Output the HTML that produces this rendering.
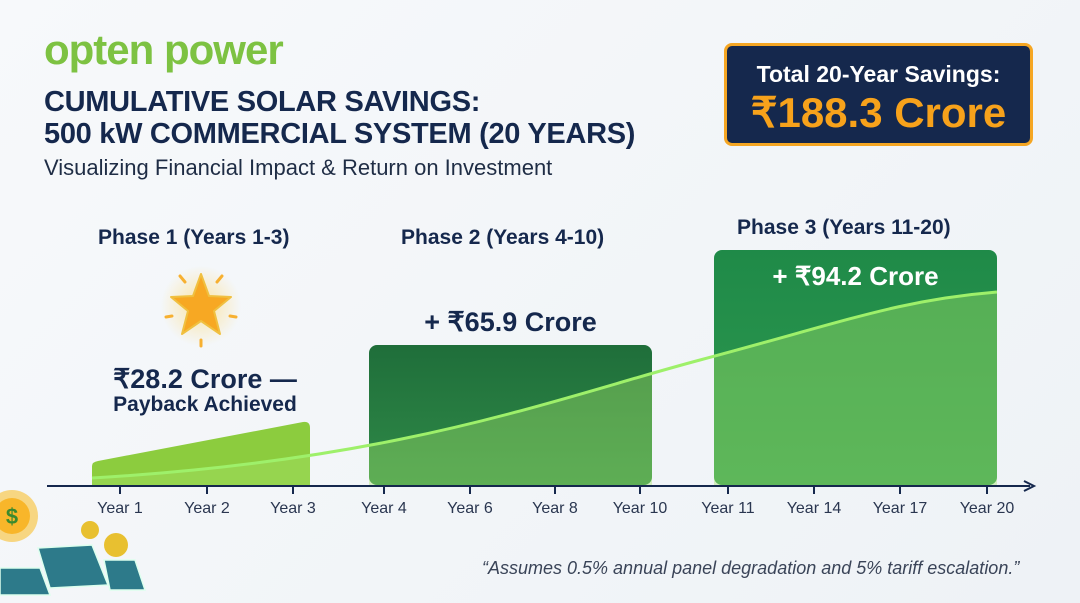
<!DOCTYPE html>
<html><head><meta charset="utf-8"><style>
body{margin:0;width:1080px;height:603px;overflow:hidden;background:linear-gradient(135deg,#f7f9fb,#eef2f6);font-family:"Liberation Sans",sans-serif;position:relative}
.t{position:absolute;white-space:nowrap}
.nv{color:#15284d;font-weight:bold}
</style></head><body>
<div class="t" style="left:44px;top:26px;font-size:42px;font-weight:bold;color:#7dc242;letter-spacing:-1px">opten power</div>
<div class="t nv" style="left:44px;top:86px;font-size:29px;line-height:32px;letter-spacing:-0.3px">CUMULATIVE SOLAR SAVINGS:<br>500 kW COMMERCIAL SYSTEM (20 YEARS)</div>
<div class="t" style="left:44px;top:155px;font-size:22px;color:#1f2d45">Visualizing Financial Impact &amp; Return on Investment</div>
<div class="t" style="left:724px;top:43px;width:303px;height:97px;background:#15284d;border:3px solid #f5a623;border-radius:8px;text-align:center;color:#fff">
<div style="font-size:23px;font-weight:bold;margin-top:15px">Total 20-Year Savings:</div>
<div style="font-size:42px;font-weight:bold;color:#f7a21b;margin-top:0px">₹188.3 Crore</div></div>
<svg class="t" style="left:0;top:0" width="1080" height="603">
<defs>
<linearGradient id="g1" x1="0" y1="0" x2="0" y2="1"><stop offset="0" stop-color="#1f6e3a"/><stop offset="1" stop-color="#2f8a48"/></linearGradient>
<linearGradient id="g2" x1="0" y1="0" x2="0" y2="1"><stop offset="0" stop-color="#1f8a48"/><stop offset="1" stop-color="#2f9a50"/></linearGradient>
<radialGradient id="gl"><stop offset="0" stop-color="#ffd76a" stop-opacity=".6"/><stop offset="1" stop-color="#ffd76a" stop-opacity="0"/></radialGradient>
<clipPath id="cp"><rect x="92" y="0" width="218" height="486"/><rect x="369" y="0" width="283" height="486"/><rect x="714" y="0" width="283" height="486"/></clipPath>
</defs>
<path d="M92,466 Q92,462 98,461 L303,422 Q310,421 310,428 L310,486 L92,486Z" fill="#8ccc3e"/>
<rect x="369" y="345" width="283" height="140" rx="8" fill="url(#g1)"/>
<rect x="714" y="250" width="283" height="235" rx="8" fill="url(#g2)"/>
<path clip-path="url(#cp)" d="M92,478 C400,460 550,400 700,360 S900,300 997,292 L997,486 L92,486Z" fill="#a6e36a" opacity=".4"/>
<path d="M92,478 C400,460 550,400 700,360 S900,300 997,292" fill="none" stroke="#9ef06a" stroke-width="3"/>
<line x1="47" y1="486" x2="1030" y2="486" stroke="#15284d" stroke-width="2"/>
<path d="M1024,481 L1034,486 L1024,491" fill="none" stroke="#15284d" stroke-width="2"/>
<g stroke="#15284d" stroke-width="2">
<line x1="120" y1="486" x2="120" y2="494"/><line x1="207" y1="486" x2="207" y2="494"/><line x1="293" y1="486" x2="293" y2="494"/><line x1="384" y1="486" x2="384" y2="494"/><line x1="470" y1="486" x2="470" y2="494"/><line x1="555" y1="486" x2="555" y2="494"/><line x1="640" y1="486" x2="640" y2="494"/><line x1="728" y1="486" x2="728" y2="494"/><line x1="814" y1="486" x2="814" y2="494"/><line x1="900" y1="486" x2="900" y2="494"/><line x1="987" y1="486" x2="987" y2="494"/></g>
<g font-size="16" fill="#2a3650" text-anchor="middle" font-family="Liberation Sans">
<text x="120" y="513">Year 1</text><text x="207" y="513">Year 2</text><text x="293" y="513">Year 3</text><text x="384" y="513">Year 4</text><text x="470" y="513">Year 6</text><text x="555" y="513">Year 8</text><text x="640" y="513">Year 10</text><text x="728" y="513">Year 11</text><text x="814" y="513">Year 14</text><text x="900" y="513">Year 17</text><text x="987" y="513">Year 20</text></g>
<circle cx="201" cy="306" r="40" fill="url(#gl)"/>
<path d="M201,274 L209,296 L231,297 L214,311 L220,334 L201,321 L182,334 L188,311 L171,297 L193,296Z" fill="#f7a823" stroke="#f0c040" stroke-width="2" stroke-linejoin="round"/>
<g stroke="#f7b030" stroke-width="3" stroke-linecap="round"><line x1="180" y1="276" x2="185" y2="282"/><line x1="222" y1="276" x2="217" y2="282"/><line x1="166" y1="317" x2="172" y2="316"/><line x1="236" y1="317" x2="230" y2="316"/><line x1="201" y1="340" x2="201" y2="346"/></g>
<circle cx="12" cy="516" r="26" fill="#f8c030" opacity=".6"/>
<circle cx="12" cy="516" r="18" fill="#f8b62a"/><text x="12" y="524" font-size="22" font-weight="bold" fill="#3a8a2e" text-anchor="middle">$</text>
<circle cx="90" cy="530" r="9" fill="#e8c030"/><circle cx="116" cy="545" r="12" fill="#e8c030"/>
<g fill="#2d7a8a" stroke="#dfe" stroke-width="1.5">
<polygon points="0,568 40,568 50,595 0,595"/>
<polygon points="38,548 92,545 108,585 50,588"/>
<polygon points="104,560 135,560 145,590 110,590"/></g>
</svg>
<div class="t nv" style="left:98px;top:226px;font-size:21px">Phase 1 (Years 1-3)</div>
<div class="t nv" style="left:401px;top:226px;font-size:21px">Phase 2 (Years 4-10)</div>
<div class="t nv" style="left:737px;top:216px;font-size:21px">Phase 3 (Years 11-20)</div>
<div class="t nv" style="left:85px;top:364px;width:240px;text-align:center;font-size:27px">₹28.2 Crore —</div>
<div class="t nv" style="left:85px;top:393px;width:240px;text-align:center;font-size:21px">Payback Achieved</div>
<div class="t nv" style="left:369px;top:307px;width:283px;text-align:center;font-size:27px">+ ₹65.9 Crore</div>
<div class="t" style="left:714px;top:261px;width:283px;text-align:center;font-size:26px;font-weight:bold;color:#fff">+ ₹94.2 Crore</div>
<div class="t" style="left:482px;top:558px;font-size:18px;font-style:italic;color:#3a4458">“Assumes 0.5% annual panel degradation and 5% tariff escalation.”</div>
</body></html>
